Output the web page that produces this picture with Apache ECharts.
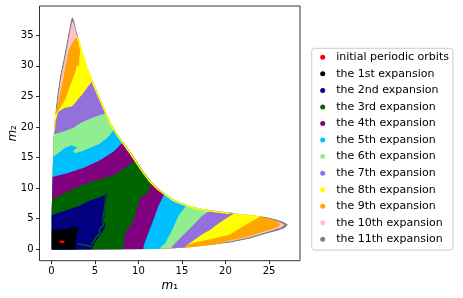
<!DOCTYPE html>
<html><head><meta charset="utf-8">
<script src="https://cdn.jsdelivr.net/npm/echarts@6/dist/echarts.min.js"></script>
<style>html,body{margin:0;padding:0;background:#fff}#c{width:463px;height:298px}</style>
</head><body><div id="c"></div>
<script>
// legend entries and colours
const names = ['initial periodic orbits','the 1st expansion','the 2nd expansion','the 3rd expansion','the 4th expansion','the 5th expansion','the 6th expansion','the 7th expansion','the 8th expansion','the 9th expansion','the 10th expansion','the 11th expansion'];
const colors = ['#ff0000','#000000','#000080','#006400','#800080','#00bfff','#90ee90','#9370db','#ffff00','#ffa500','#ffc0cb','#808080'];
const xTicks = [0,5,10,15,20,25];
const yTicks = [0,5,10,15,20,25,30,35];

// outer envelope of all points (11th expansion) [m1, m2]
const OUTER = [[0.05,-0.05],[0.05,6],[0.1,10],[0.2,15],[0.3,19],[0.45,22.3],[0.65,25],[1.0,28.4],[1.4,31.1],[1.75,33.8],[2.05,36],[2.25,37.5],[2.4,38.0],[2.6,37.6],[2.85,36],[3.1,34.7],[3.5,32.5],[4.1,29.8],[4.9,27],[5.5,25],[6.2,22.7],[6.8,20.7],[7.5,19],[8.3,17.4],[9.1,15.8],[9.85,14.2],[10.6,12.6],[11.4,11.1],[12.2,10],[12.9,9.2],[14,8.1],[14.8,7.6],[16,7.0],[17.1,6.6],[18.5,6.3],[20.5,5.95],[22.8,5.6],[24.7,5.25],[25.8,4.9],[26.6,4.5],[27.2,4.0],[26.8,3.4],[26.0,3.0],[24.7,2.5],[22.8,1.7],[20.5,1.05],[18.3,0.65],[16,0.3],[14,0.12],[12,0.02],[0.05,-0.05]];
// regions reached up to each expansion (clipped to the envelope)
const REACH10 = [[-2,-2],[-2,22],[0.6,22.5],[0.8,25],[1.15,28.4],[1.55,31.1],[1.9,33.8],[2.2,36],[2.4,37.3],[2.55,37.1],[2.75,36],[2.95,34.9],[4,34],[8,26],[12,17],[18,10],[20,7],[20.5,5.85],[22.8,5.45],[24.7,5.05],[25.7,4.7],[26.4,4.3],[26.8,4.0],[26.4,3.55],[25.7,3.2],[24.7,2.75],[22.8,1.95],[20.5,1.25],[18.3,0.8],[17,-1]];
const REACH9 = [[-2,-2],[-2,21.5],[0.5,22.5],[0.85,24.5],[1.15,26.5],[1.45,28.5],[1.7,30.5],[2.0,32.5],[2.4,33.8],[2.8,34.5],[3.3,34.7],[6,30],[9,24],[13,16],[18,10],[23,7.5],[24.8,6.5],[24.3,5.2],[25.4,4.85],[26.1,4.4],[26.3,4.0],[26.0,3.6],[25.3,3.25],[24.2,2.8],[22.8,2.1],[20.5,1.4],[19,0.8],[18,-1]];
const REACH8 = [[-2,-2],[-2,22.3],[0.6,22.2],[1.1,23.3],[1.6,24.5],[2.0,26.2],[2.6,28.4],[2.8,29.3],[2.95,30.1],[3.2,29.9],[3.2,31.0],[3.3,32.3],[3.4,33.6],[4,34],[8,26],[12,17],[18,10],[22,7],[24.4,6.5],[24.2,5.5],[22.1,3.8],[20.5,2.4],[18.3,1.6],[17.1,1.3],[15.6,0.77],[14.0,0.35],[13.0,0.1],[12.5,-1]];
const REACH7 = [[-2,-2],[-2,19.0],[0.4,19.3],[0.5,21.0],[0.8,22.5],[1.5,23.1],[2.4,23.4],[3.0,24.4],[3.7,25.6],[4.2,26.6],[4.7,27.5],[5.3,28.6],[8,26],[12,17],[18,10],[21.6,7.0],[21.2,6.1],[20.3,5.2],[19.4,4.4],[18.3,3.2],[17.3,2.4],[16.2,1.3],[15.4,0.5],[15.0,-1]];
const REACH6 = [[-2,-2],[-2,18.8],[0.5,18.9],[1.5,19.3],[2.6,19.9],[3.4,20.7],[4.5,21.4],[5.5,21.9],[6.5,22.3],[7.5,23],[10,20],[14,13],[18,9],[18.9,7.5],[18.4,6.5],[17.3,5.4],[16.2,3.8],[15.0,2.1],[13.9,0.5],[13.6,-1]];
const REACH5 = [[-2,-2],[-2,15.2],[0.3,15.2],[0.9,15.8],[1.5,16.5],[2.3,17.0],[3.0,16.6],[2.5,16.1],[2.7,15.7],[3.5,16.0],[4.5,16.6],[5.5,17.2],[6.5,18.3],[7.2,19.6],[8,21],[11,17],[14,12],[16,8.5],[15.6,7.3],[14.6,5.4],[13.9,3.2],[13.1,1.05],[12.5,0.2],[12.4,-1]];
const REACH4 = [[-2,-2],[-2,11.8],[0.1,11.8],[1.8,12.4],[3.74,13.3],[5.65,14.6],[7.2,16.0],[8.3,17.6],[9,18.8],[12,14],[13.6,10],[13.1,9.35],[12.3,7.05],[11.6,4.3],[11.0,2.1],[10.6,0.5],[10.5,-1]];
const REACH3 = [[-2,-2],[-2,8.15],[0.11,8.15],[1.64,9.25],[3.16,10.3],[4.7,11.1],[6.2,11.7],[7.35,12.2],[8.3,13.2],[9.2,14.1],[9.9,14.6],[10.8,14.2],[11.8,12],[11.5,11.1],[11.2,9.2],[10.4,8.7],[10.0,7.6],[9.66,5.4],[9.1,3.8],[8.5,2.7],[8.3,0.5],[8.1,-1]];
const REACH2 = [[-2,-2],[-2,5.6],[0.11,5.6],[1.64,6.3],[3.16,7.05],[4.31,7.87],[5.45,8.43],[6.41,9.0],[6.22,6.79],[6.03,4.59],[6.22,3.77],[5.84,2.69],[5.27,1.59],[4.88,0.77],[4.5,-1]];
const REACH1 = [[-2,-2],[-2,3.0],[1.5,3.2],[3.1,3.7],[2.95,2.5],[2.75,1.0],[3.0,-1]];
const INITIAL = [[0.95,1.0],[1.5,1.0],[1.5,1.4],[0.95,1.4]];
// thin 3rd-expansion traces inside the 2nd expansion
const TRACE3A = [[6.3,8.8],[6.1,6.5],[5.9,4.8],[6.0,3.9],[5.5,3.2],[5.6,2.5],[5.1,1.9],[4.9,1.2],[4.6,0.9]];
const TRACE3B = [[3.0,0.9],[4.0,0.6],[5.0,0.3]];
// thin 8th-expansion rim along the upper-right edge
const RIM8 = [[3.1,34.7],[3.5,32.5],[4.1,29.8],[4.9,27],[5.5,25],[6.2,22.7],[6.8,20.7],[7.5,19],[8.3,17.4],[9.1,15.8],[9.85,14.2],[10.6,12.6],[11.4,11.1],[12.2,10],[12.9,9.2],[14,8.1],[14.8,7.6],[16,7.0],[17.1,6.6],[18.5,6.3],[20.5,5.95]];

function px(pts, api){ return pts.map(p => api.coord(p)); }
function layer(name, color, shapes, kind, width){
  return {
    type:'custom', name:name, coordinateSystem:'cartesian2d', silent:true, animation:false,
    itemStyle:{color:color}, data:[[0,0]],
    renderItem:function(params, api){
      const children = shapes.map(s => kind === 'line'
        ? {type:'polyline', shape:{points:px(s, api)}, style:{stroke:color, lineWidth:width, fill:null}}
        : {type:'polygon', shape:{points:px(s, api)}, style:{fill:color}});
      return {type:'group', clipPath:{type:'polygon', shape:{points:px(OUTER, api)}}, children:children};
    }
  };
}
const series = [
  layer(names[11], colors[11], [OUTER]),
  layer(names[10], colors[10], [REACH10]),
  layer(names[9], colors[9], [REACH9]),
  layer(names[8], colors[8], [REACH8]),
  layer(names[7], colors[7], [REACH7]),
  layer(names[6], colors[6], [REACH6]),
  layer(names[5], colors[5], [REACH5]),
  layer(names[4], colors[4], [REACH4]),
  layer(names[3], colors[3], [REACH3]),
  layer(names[2], colors[2], [REACH2]),
  layer(names[3], colors[3], [TRACE3A, TRACE3B], 'line', 1.3),
  layer(names[1], colors[1], [REACH1]),
  layer(names[0], colors[0], [INITIAL]),
  layer(names[8], colors[8], [RIM8], 'line', 3)
];
const font = 'DejaVu Sans';
const chart = echarts.init(document.getElementById('c'), null, {renderer:'canvas'});
chart.setOption({
  animation:false,
  grid:{left:39.5, right:163, top:6, bottom:37.3, containLabel:false, outerBoundsMode:'none',
    show:true, borderColor:'#000', borderWidth:0.8, backgroundColor:'#fff'},
  xAxis:{type:'value', min:-1.36, max:28.56,
    axisLine:{show:false, onZero:false}, splitLine:{show:false},
    axisTick:{show:true, length:3.5, lineStyle:{color:'#000', width:0.8}, customValues:xTicks},
    axisLabel:{customValues:xTicks, fontSize:10, color:'#000', fontFamily:font, margin:6},
    name:'{i|m}{n|₁}', nameLocation:'middle', nameGap:19, nameMoveOverlap:false,
    nameTextStyle:{rich:{i:{fontStyle:'italic', fontSize:12, fontFamily:font, color:'#000'}, n:{fontSize:12, fontFamily:font, color:'#000'}}}},
  yAxis:{type:'value', min:-1.9, max:39.8,
    axisLine:{show:false, onZero:false}, splitLine:{show:false},
    axisTick:{show:true, length:3.5, lineStyle:{color:'#000', width:0.8}, customValues:yTicks},
    axisLabel:{customValues:yTicks, fontSize:10, color:'#000', fontFamily:font, margin:6},
    name:'{i|m}{n|₂}', nameLocation:'middle', nameGap:21, nameRotate:90, nameMoveOverlap:false,
    nameTextStyle:{rich:{i:{fontStyle:'italic', fontSize:12, fontFamily:font, color:'#000'}, n:{fontSize:12, fontFamily:font, color:'#000'}}}},
  legend:{orient:'vertical', left:311.7, top:48.3, icon:'circle', itemWidth:5, itemHeight:5, itemGap:4.55,
    padding:[3,4,4.7,8.5], borderColor:'#cccccc', borderWidth:1, borderRadius:3, backgroundColor:'#fff',
    textStyle:{fontSize:11, fontFamily:font, color:'#000', lineHeight:12, padding:[0,0,0,6]},
    data:names, selectedMode:false},
  series:series
});
</script></body></html>
